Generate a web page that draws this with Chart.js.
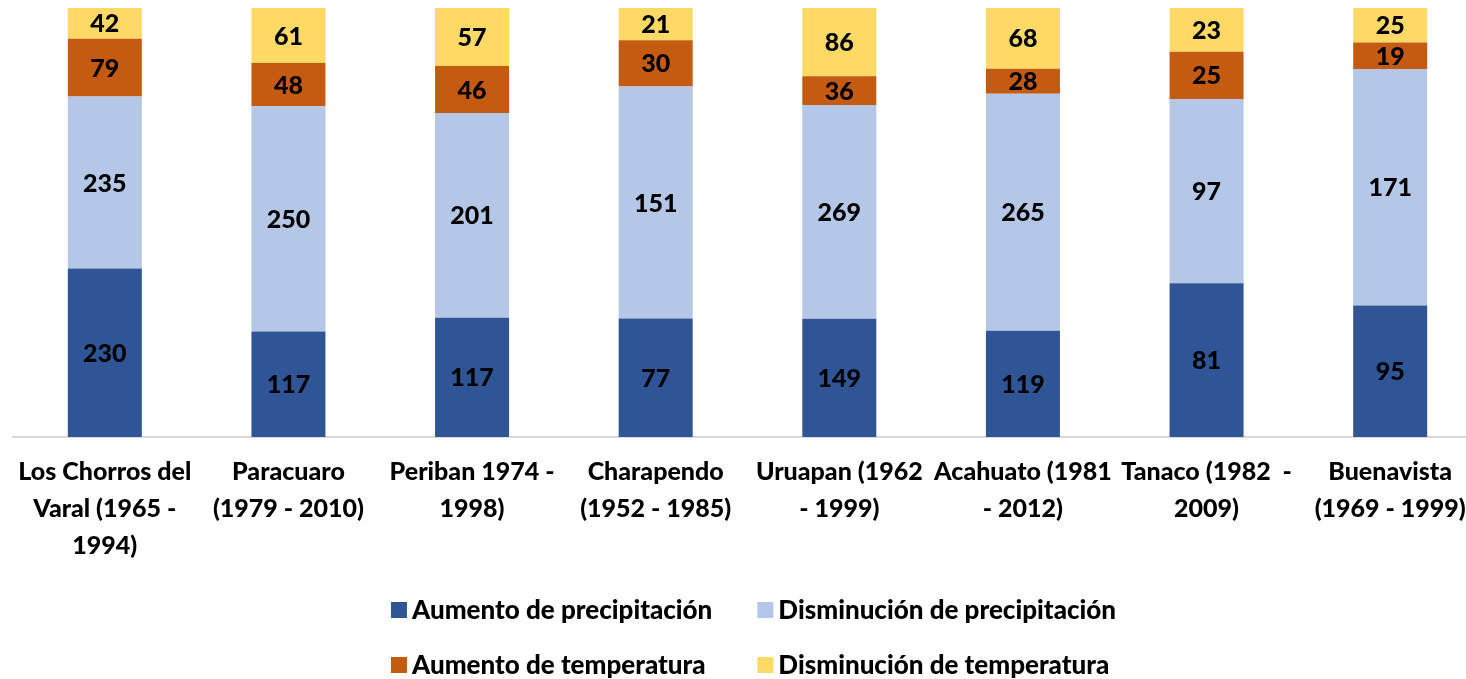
<!DOCTYPE html>
<html>
<head>
<meta charset="utf-8">
<script src="https://cdn.jsdelivr.net/npm/chart.js@4"></script>
<style>
  html, body { margin: 0; padding: 0; background: #fff; overflow: hidden; }
  #wrap { width: 1490px; height: 679px; }
</style>
</head>
<body>
<div id="wrap"><canvas id="chart"></canvas></div>
<script>
// etiquetas de las estaciones
const stations = [
  ["Los Chorros del", "Varal (1965 -", "1994)"],
  ["Paracuaro", "(1979 - 2010)"],
  ["Periban 1974 -", "1998)"],
  ["Charapendo", "(1952 - 1985)"],
  ["Uruapan (1962", "- 1999)"],
  ["Acahuato (1981", "- 2012)"],
  ["Tanaco (1982  -", "2009)"],
  ["Buenavista", "(1969 - 1999)"]
];

const aumentoPrecip = [230, 117, 117, 77, 149, 119, 81, 95];
const disminucionPrecip = [235, 250, 201, 151, 269, 265, 97, 171];
const aumentoTemp = [79, 48, 46, 30, 36, 28, 25, 19];
const disminucionTemp = [42, 61, 57, 21, 86, 68, 23, 25];

const seriesNames = ["Aumento de precipitación", "Disminución de precipitación",
  "Aumento de temperatura", "Disminución de temperatura"];
const seriesColors = ["#2F5597", "#B4C7E7", "#C55A11", "#FFD966"];

const raw = [aumentoPrecip, disminucionPrecip, aumentoTemp, disminucionTemp];
const totals = stations.map((s, i) => raw.reduce((sum, arr) => sum + arr[i], 0));

// apilado al 100 %
const datasets = raw.map((arr, k) => ({
  label: seriesNames[k],
  data: arr.map((v, i) => v / totals[i] * 100),
  rawValues: arr,
  backgroundColor: seriesColors[k],
  borderWidth: 0,
  categoryPercentage: 1,
  barPercentage: 0.403
}));

const FONT = "Lato";
const WEIGHT = "900";

const valueLabels = {
  id: "valueLabels",
  afterDatasetsDraw(chart) {
    const ctx = chart.ctx;
    ctx.save();
    ctx.font = WEIGHT + " 25px " + FONT;
    ctx.fillStyle = "#000";
    ctx.textAlign = "center";
    ctx.textBaseline = "middle";
    chart.data.datasets.forEach((ds, k) => {
      chart.getDatasetMeta(k).data.forEach((bar, i) => {
        ctx.fillText(ds.rawValues[i], bar.x, (bar.y + bar.base) / 2 + 1);
      });
    });
    ctx.restore();
  }
};

// leyenda en dos filas y dos columnas
const gridLegend = {
  id: "gridLegend",
  afterDraw(chart) {
    const ctx = chart.ctx;
    const items = chart.data.datasets;
    const box = 16, gap = 5, colGap = 45;
    const rows = [610, 665];
    ctx.save();
    ctx.font = WEIGHT + " 26px " + FONT;
    ctx.textBaseline = "middle";
    const colW = [0, 1].map(c =>
      box + gap + Math.max(ctx.measureText(items[c].label).width, ctx.measureText(items[c + 2].label).width));
    const total = colW[0] + colGap + colW[1];
    const cx = (chart.chartArea.left + chart.chartArea.right) / 2 + 6;
    const x0 = cx - total / 2;
    items.forEach((ds, k) => {
      const col = k % 2, row = Math.floor(k / 2);
      const x = col === 0 ? x0 : x0 + colW[0] + colGap;
      const y = rows[row];
      ctx.fillStyle = ds.backgroundColor;
      ctx.fillRect(x, y - box / 2, box, box);
      ctx.fillStyle = "#000";
      ctx.fillText(ds.label, x + box + gap, y + 1);
    });
    ctx.restore();
  }
};

new Chart(document.getElementById("chart"), {
  type: "bar",
  data: { labels: stations, datasets: datasets },
  options: {
    responsive: true,
    maintainAspectRatio: false,
    animation: false,
    layout: { padding: { left: 13, right: 8, top: 8, bottom: 107 } },
    plugins: {
      tooltip: { enabled: false },
      legend: { display: false }
    },
    scales: {
      x: {
        stacked: true,
        grid: { display: false },
        border: { display: true, color: "#D9D9D9", width: 2 },
        ticks: {
          color: "#000",
          maxRotation: 0,
          autoSkip: false,
          padding: 8,
          font: { family: FONT, size: 25, weight: WEIGHT, lineHeight: 1.48 }
        }
      },
      y: {
        stacked: true,
        display: false,
        min: 0,
        max: 100
      }
    }
  },
  plugins: [valueLabels, gridLegend]
});
</script>
</body>
</html>
